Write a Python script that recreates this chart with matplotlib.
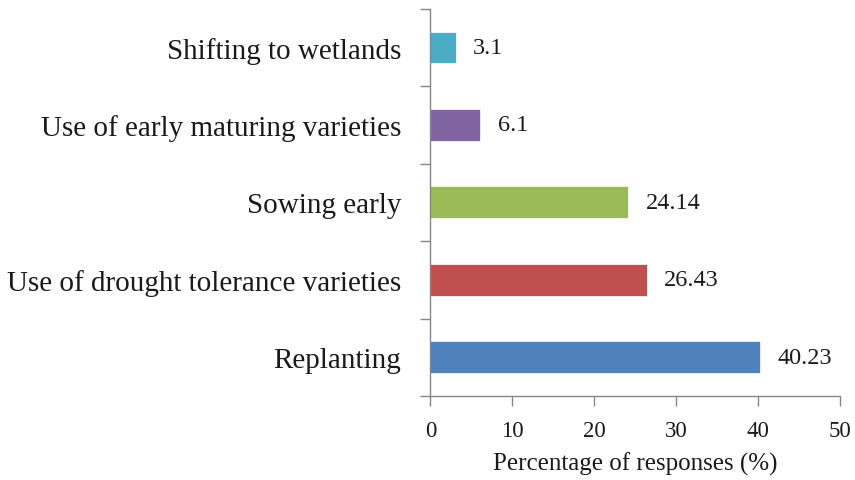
import matplotlib.pyplot as plt

# Ответы респондентов (снизу вверх)
strategies = [
    "Replanting",
    "Use of drought tolerance varieties",
    "Sowing early",
    "Use of early maturing varieties",
    "Shifting to wetlands",
]
percentages = [40.23, 26.43, 24.14, 6.1, 3.1]
labels = ["40.23", "26.43", "24.14", "6.1", "3.1"]
colors = ["#4F81BD", "#C0504D", "#9BBB59", "#8064A2", "#4BACC6"]
xticks = [0, 10, 20, 30, 40, 50]

plt.rcParams["font.family"] = ["Liberation Serif", "DejaVu Serif"]

fig = plt.figure(figsize=(8.55, 4.81), dpi=100)
ax = fig.add_axes([0.5035, 0.1746, 0.4790, 0.8052])

pos = list(range(len(strategies)))
ax.barh(pos, percentages, height=0.41, color=colors, edgecolor="white", linewidth=0.5)

for y, v, lab in zip(pos, percentages, labels):
    ax.text(v + 2.1, y, lab, va="center", ha="left", fontsize=17.5, color="#1a1a1a")

ax.set_xlim(0, 50)
ax.set_ylim(-0.5, len(strategies) - 0.5)
ax.set_xticks(xticks)
ax.set_xticklabels([str(t) for t in xticks], fontsize=16.5, color="#1a1a1a")

# Подписи категорий без засечек, засечки на границах категорий
ax.set_yticks(pos)
ax.set_yticklabels(strategies, fontsize=21, color="#1a1a1a")
ax.set_yticks([p - 0.5 for p in pos] + [len(pos) - 0.5], minor=True)
ax.tick_params(axis="y", which="major", length=0, pad=21)
ax.tick_params(axis="y", which="minor", length=7, width=1, color="#868686", direction="out")
ax.tick_params(axis="x", length=7, width=1, color="#868686", direction="out", pad=10)

for side in ["top", "right"]:
    ax.spines[side].set_visible(False)
for side in ["left", "bottom"]:
    ax.spines[side].set_color("#868686")
    ax.spines[side].set_linewidth(1)

ax.set_xlabel("Percentage of responses (%)", fontsize=18, color="#1a1a1a", labelpad=8)

fig.savefig("out.png", dpi=100)
